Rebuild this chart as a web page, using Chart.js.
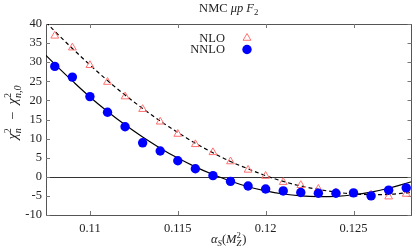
<!DOCTYPE html>
<html>
<head>
<meta charset="utf-8">
<script src="https://cdn.jsdelivr.net/npm/chart.js@4/dist/chart.umd.min.js"></script>
<style>
html,body{margin:0;padding:0;background:#fff;}
#wrap{width:417px;height:251px;position:relative;}
</style>
</head>
<body>
<div id="wrap"><canvas id="c" width="417" height="251"></canvas></div>
<script>
// ---- data ----
const alphaS = [0.108,0.109,0.110,0.111,0.112,0.113,0.114,0.115,0.116,0.117,0.118,0.119,0.120,0.121,0.122,0.123,0.124,0.125,0.126,0.127,0.128];
const nloPoints = [36.9,33.8,29.2,24.8,21.0,17.7,14.4,11.2,8.5,6.4,4.0,1.8,0.2,-1.4,-2.2,-3.2,-4.1,-4.5,-4.7,-5.2,-4.5];
const nnloPoints = [28.9,26.1,21.0,16.9,13.1,8.9,6.75,4.2,2.1,0.3,-1.2,-2.4,-3.2,-3.7,-4.1,-4.3,-4.3,-4.2,-5.0,-3.5,-2.9];
const curveX = [0.1075,0.108,0.109,0.110,0.111,0.112,0.113,0.114,0.115,0.116,0.117,0.118,0.119,0.120,0.121,0.122,0.123,0.124,0.125,0.126,0.127,0.128,0.1283];
const nloFit = [40.5,38.1,33.6,29.3,25.2,21.4,17.9,14.6,11.6,8.8,6.3,4.0,2.1,0.3,-1.2,-2.4,-3.3,-4.0,-4.5,-4.65,-4.6,-4.2,-4.1];
const nnloFit = [31.8,29.5,25.1,20.9,17.1,13.6,10.4,7.5,4.9,2.6,0.6,-1.1,-2.6,-3.7,-4.5,-5.0,-5.2,-5.1,-4.7,-4.0,-3.0,-1.7,-1.3];
const xTicks = [0.11,0.115,0.12,0.125];
const yTicks = [-10,-5,0,5,10,15,20,25,30,35,40];
const seriesNames = ['NLO','NNLO'];
const titleParts = [{t:'NMC '},{t:'μp',i:true},{t:' '},{t:'F',i:true},{t:'2',sub:true}];
const xTitleParts = [{t:'α',i:true},{t:'S',i:true,sub:true},{t:'('},{t:'M',i:true},{t:'Z',i:true,subsup:'2'},{t:')'}];
const yTitleParts = [{t:'χ',i:true},{t:'n',i:true,subsup:'2'},{t:'  −  '},{t:'χ',i:true},{t:'n,0',i:true,subsup:'2'}];

const FONT = '"Liberation Serif", "DejaVu Serif", serif';
const FS = 12.5;
const TXT = '#222';

function pts(xs, ys){ return xs.map((x,k)=>({x:x, y:ys[k]})); }

function richWidth(ctx, parts, fs){
  let w=0;
  for(const p of parts){
    if(p.subsup){
      ctx.font=(p.i?'italic ':'')+(fs*0.7)+'px '+FONT; const a=ctx.measureText(p.t).width;
      ctx.font=(fs*0.7)+'px '+FONT; const b=ctx.measureText(p.subsup).width;
      w+=Math.max(a,b)+1;
    } else if(p.sub||p.sup){ ctx.font=(p.i?'italic ':'')+(fs*0.7)+'px '+FONT; w+=ctx.measureText(p.t).width; }
    else { ctx.font=(p.i?'italic ':'')+fs+'px '+FONT; w+=ctx.measureText(p.t).width; }
  }
  return w;
}
function drawRich(ctx, parts, cx, baseline, fs){
  const w = richWidth(ctx, parts, fs);
  let x = cx - w/2;
  ctx.textAlign='left'; ctx.textBaseline='alphabetic'; ctx.fillStyle=TXT;
  for(const p of parts){
    if(p.subsup){
      ctx.font=(p.i?'italic ':'')+(fs*0.7)+'px '+FONT;
      const ws = ctx.measureText(p.t).width;
      ctx.fillText(p.t, x, baseline+fs*0.25);
      ctx.font=(fs*0.7)+'px '+FONT;
      const wp = ctx.measureText(p.subsup).width;
      ctx.fillText(p.subsup, x, baseline-fs*0.4);
      x += Math.max(ws,wp)+1;
    } else if(p.sub){
      ctx.font=(p.i?'italic ':'')+(fs*0.7)+'px '+FONT;
      ctx.fillText(p.t, x, baseline+fs*0.25); x+=ctx.measureText(p.t).width;
    } else {
      ctx.font=(p.i?'italic ':'')+fs+'px '+FONT;
      ctx.fillText(p.t, x, baseline); x+=ctx.measureText(p.t).width;
    }
  }
}

const frame = {
  id:'frame',
  beforeDatasetsDraw(chart){
    const {ctx, chartArea:a, scales:{x,y}} = chart;
    ctx.save();
    ctx.strokeStyle='#333'; ctx.lineWidth=1;
    const y0 = Math.round(y.getPixelForValue(0))+0.5;
    ctx.beginPath(); ctx.moveTo(a.left,y0); ctx.lineTo(a.right,y0); ctx.stroke();
    ctx.strokeStyle='#555';
    ctx.strokeRect(Math.round(a.left)+0.5, Math.round(a.top)+0.5, Math.round(a.right-a.left)-1, Math.round(a.bottom-a.top));
    ctx.strokeStyle='#777';
    ctx.beginPath();
    for(const v of xTicks){
      const px = Math.round(x.getPixelForValue(v))+0.5;
      ctx.moveTo(px,a.bottom); ctx.lineTo(px,a.bottom-4);
      ctx.moveTo(px,a.top); ctx.lineTo(px,a.top+4);
    }
    for(const v of yTicks){
      const py = Math.round(y.getPixelForValue(v))+0.5;
      ctx.moveTo(a.left,py); ctx.lineTo(a.left+4,py);
      ctx.moveTo(a.right,py); ctx.lineTo(a.right-4,py);
    }
    ctx.stroke();
    ctx.restore();
  },
  afterDraw(chart){
    const {ctx, chartArea:a} = chart;
    ctx.save();
    const cx = (a.left+a.right)/2;
    drawRich(ctx, titleParts, cx, 12, FS);
    drawRich(ctx, xTitleParts, cx, 243, FS);
    ctx.translate(13, 112);
    ctx.rotate(-Math.PI/2);
    drawRich(ctx, yTitleParts, 0, 4, 14.5);
    ctx.restore();
    ctx.save();
    const ds = chart.data.datasets.filter(d=>d.legendLabel);
    ds.forEach((d,k)=>{
      const ly = 38 + k*11.5;
      ctx.font = FS+'px '+FONT; ctx.fillStyle=TXT; ctx.textAlign='right'; ctx.textBaseline='middle';
      ctx.fillText(d.legendLabel, 225, ly+0.5);
      ctx.strokeStyle=d.borderColor; ctx.fillStyle=d.backgroundColor; ctx.lineWidth=d.borderWidth;
      Chart.helpers.drawPoint(ctx, {pointStyle:d.pointStyle, radius:d.pointRadius, rotation:0, borderWidth:d.borderWidth}, 247, ly);
    });
    ctx.restore();
  }
};

new Chart(document.getElementById('c'), {
  type:'scatter',
  data:{
    datasets:[
      {label:'nnloFit', data:pts(curveX,nnloFit), showLine:true, borderColor:'#000', borderWidth:1.2, pointRadius:0, tension:0.4, order:4},
      {label:'nloFit', data:pts(curveX,nloFit), showLine:true, borderColor:'#000', borderWidth:1.2, borderDash:[4,3], pointRadius:0, tension:0.4, order:3},
      {label:seriesNames[0], legendLabel:seriesNames[0], data:pts(alphaS,nloPoints), pointStyle:'triangle', pointRadius:4.5, borderColor:'#ff7070', backgroundColor:'rgba(0,0,0,0)', borderWidth:1, order:2},
      {label:seriesNames[1], legendLabel:seriesNames[1], data:pts(alphaS,nnloPoints), pointStyle:'circle', pointRadius:4.7, borderColor:'#0000ff', backgroundColor:'#0000ff', borderWidth:0, order:1}
    ]
  },
  options:{
    responsive:false, animation:false, devicePixelRatio:1,
    layout:{padding:{top:24,right:5,left:0,bottom:0}},
    plugins:{legend:{display:false}, tooltip:{enabled:false}, title:{display:false}},
    scales:{
      x:{type:'linear', min:0.1075, max:0.1283,
        afterBuildTicks(s){ s.ticks = xTicks.map(v=>({value:v})); },
        afterFit(s){ s.height = 36; },
        grid:{display:false, drawTicks:false}, border:{display:false},
        ticks:{padding:6, color:TXT, font:{family:FONT,size:FS}, maxRotation:0, callback:v=>String(+v.toFixed(3))}
      },
      y:{type:'linear', min:-10, max:40,
        afterBuildTicks(s){ s.ticks = yTicks.map(v=>({value:v})); },
        afterFit(s){ s.width = 46; },
        grid:{display:false, drawTicks:false}, border:{display:false},
        ticks:{padding:4, color:TXT, font:{family:FONT,size:FS}, callback:v=>String(v)}
      }
    }
  },
  plugins:[frame]
});
</script>
</body>
</html>
